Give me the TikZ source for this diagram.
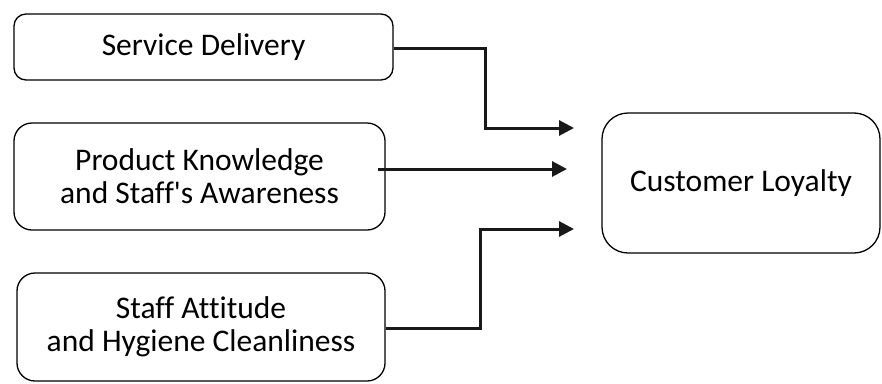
\documentclass[tikz,border=0pt]{standalone}
\usepackage{fontspec}
\setmainfont{Carlito}[Ligatures={TeXOff,NoCommon}]
\usepackage{tikz}
\usetikzlibrary{positioning,arrows.meta}
\tikzset{
  factor/.style={draw, line width=1.3pt, rounded corners=12pt, align=center,
    font=\fontsize{31.5}{33}\selectfont, inner sep=0pt},
  link/.style={line width=3pt, draw=black!90, -{Triangle[length=15pt,width=15pt]}}
}

\begin{document}
\begin{tikzpicture}[x=1pt, y=-1pt]
  \useasboundingbox (0,0) rectangle (882,383);

  \node (SD) [factor, minimum width=379pt, minimum height=66pt] at (203.5,47) {Service Delivery};
  \node (PK) [factor, minimum width=371pt, minimum height=107pt, rounded corners=18pt] at (199.5,176.5)
        {Product Knowledge\\and Staff's Awareness};
  \node (SA) [factor, minimum width=368pt, minimum height=108pt, rounded corners=18pt] at (201,327)
        {Staff Attitude\\and Hygiene Cleanliness};
  \node (CL) [factor, minimum width=278pt, minimum height=140pt, rounded corners=26pt] at (741,183)
        {Customer Loyalty};

  \coordinate (in1) at (574,128);
  \coordinate (in2) at (567,169);
  \coordinate (in3) at (574,229);

  \draw [link] (SD.east |- 0,48) -| (485,128) -- (in1);
  \draw [link] ([xshift=-8pt]PK.east |- in2) -- (in2);
  \draw [link] (SA.east |- 0,328) -| (480,229) -- (in3);
\end{tikzpicture}
\end{document}
